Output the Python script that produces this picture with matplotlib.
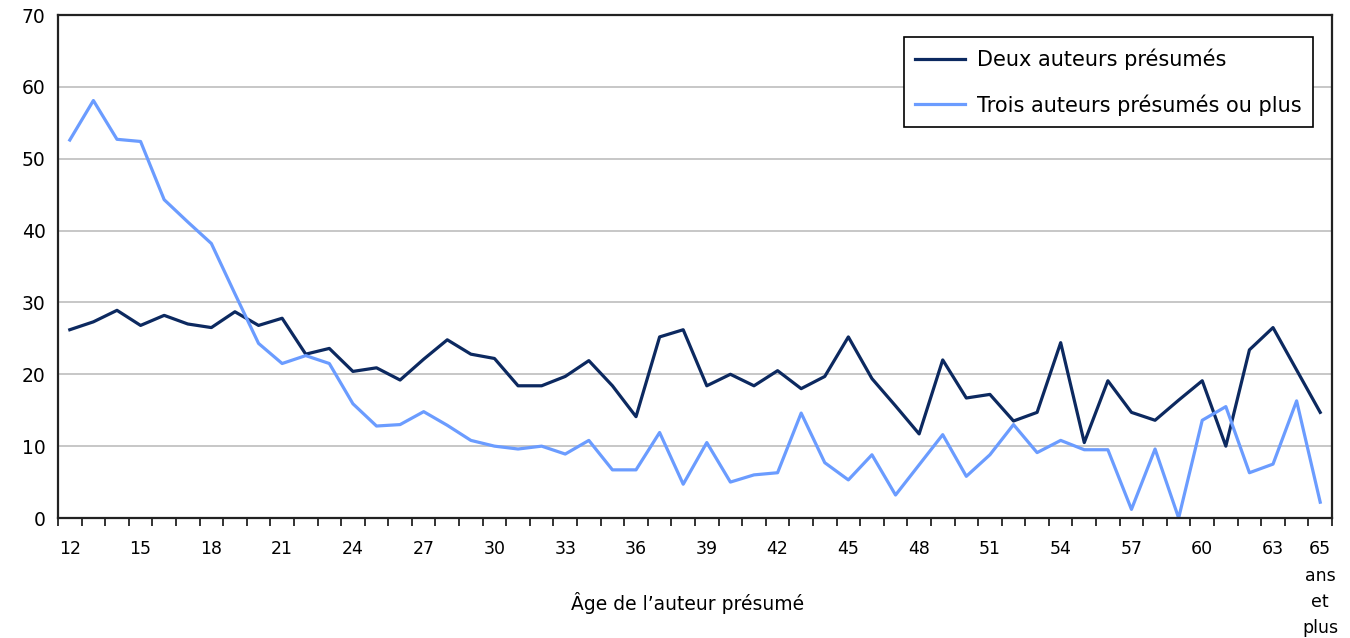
import numpy as np
import matplotlib
matplotlib.use("Agg")
import matplotlib.pyplot as plt
from matplotlib.ticker import FixedLocator

ages = list(range(12, 66))
deux = [26.2, 27.3, 28.9, 26.8, 28.2, 27.0, 26.5, 28.7, 26.8, 27.8,
        22.8, 23.6, 20.4, 20.9, 19.2, 22.1, 24.8, 22.8, 22.2, 18.4,
        18.4, 19.7, 21.9, 18.4, 14.1, 25.2, 26.2, 18.4, 20.0, 18.4,
        20.5, 18.0, 19.7, 25.2, 19.4, 15.6, 11.7, 22.0, 16.7, 17.2,
        13.5, 14.7, 24.4, 10.5, 19.1, 14.7, 13.6, 16.4, 19.1, 10.0,
        23.4, 26.5, 20.6, 14.7]
trois = [52.6, 58.1, 52.7, 52.4, 44.3, 41.2, 38.2, 31.2, 24.3, 21.5,
         22.6, 21.5, 15.9, 12.8, 13.0, 14.8, 12.9, 10.8, 10.0, 9.6,
         10.0, 8.9, 10.8, 6.7, 6.7, 11.9, 4.7, 10.5, 5.0, 6.0,
         6.3, 14.6, 7.7, 5.3, 8.8, 3.2, 7.4, 11.6, 5.8, 8.8,
         13.0, 9.1, 10.8, 9.5, 9.5, 1.2, 9.6, 0.0, 13.6, 15.5,
         6.3, 7.5, 16.3, 2.2]
tick_ages = [12, 15, 18, 21, 24, 27, 30, 33, 36, 39, 42, 45, 48, 51, 54, 57, 60, 63, 65]
tick_labels = [str(a) for a in tick_ages[:-1]] + ["65\nans\net\nplus"]

fig = plt.figure(figsize=(13.5, 6.38), dpi=100)
ax = fig.add_axes([58 / 1350, 1 - 518 / 638, 1274 / 1350, 503 / 638])

ax.plot(ages, deux, color="#0c2960", lw=2.3, label="Deux auteurs présumés")
ax.plot(ages, trois, color="#6b9cff", lw=2.3, label="Trois auteurs présumés ou plus")

ax.set_xlim(11.5, 65.5)
ax.set_ylim(0, 70)
ax.set_yticks(range(0, 71, 10))
ax.yaxis.grid(True, color="#bdbdbd", lw=1.2)
ax.set_axisbelow(True)
ax.tick_params(axis="y", length=0, labelsize=13.5, pad=9)

ax.set_xticks(tick_ages)
ax.set_xticklabels(tick_labels, fontsize=12.5, linespacing=1.6, va="top")
ax.tick_params(axis="x", which="major", length=0, pad=16)
ax.xaxis.set_minor_locator(FixedLocator(np.arange(11.5, 66, 1)))
ax.tick_params(axis="x", which="minor", length=6, width=1.3, color="#222222")

for s in ax.spines.values():
    s.set_color("#222222")
    s.set_linewidth(1.6)

leg = ax.legend(loc="upper right", bbox_to_anchor=(0.985, 0.956), borderaxespad=0,
                fontsize=15, fancybox=False, edgecolor="black", framealpha=1,
                handlelength=2.4, handletextpad=0.55, labelspacing=1.15, borderpad=0.55)
leg.get_frame().set_linewidth(1.2)

fig.text(688 / 1350, 1 - 603 / 638, "Âge de l’auteur présumé", ha="center", va="center",
         fontsize=13.5)

fig.savefig("out.png", dpi=100)
